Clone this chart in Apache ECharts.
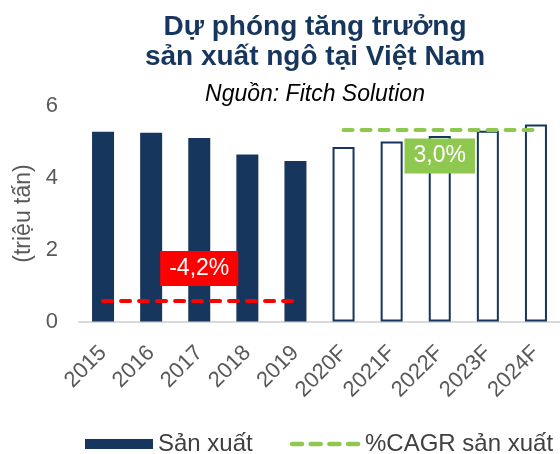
<!DOCTYPE html>
<html><head><meta charset="utf-8">
<script src="https://cdn.jsdelivr.net/npm/echarts@6/dist/echarts.min.js"></script>
<style>html,body{margin:0;padding:0;background:#fff}#c{width:560px;height:454px}</style>
</head><body><div id="c"></div>
<script>
const categories = ['2015','2016','2017','2018','2019','2020F','2021F','2022F','2023F','2024F'];
const production = [5.27, 5.24, 5.10, 4.64, 4.46, 4.85, 5.00, 5.15, 5.30, 5.47];
const isForecast = [false,false,false,false,false,true,true,true,true,true];
const cagrPast = [0.57, 0.57, 0.57, 0.57, 0.57, null, null, null, null, null];
const cagrFuture = [null, null, null, null, null, 5.32, 5.32, 5.32, 5.32, 5.32];
const cagrPastLabel = '-4,2%';
const cagrFutureLabel = '3,0%';
const pastLabelIndex = 2;
const futureLabelIndex = 7;
const yTicks = {min: 0, max: 6, interval: 2};

const NAVY = '#17365d';
const RED = '#ff0000';
const GREEN = '#8fc84f';
const FONT = '"Liberation Sans", Arial, sans-serif';

const barData = production.map((v, i) => isForecast[i]
  ? {value: v, itemStyle: {color: '#ffffff', borderColor: NAVY, borderWidth: 2}}
  : {value: v});

function boxLabel(bg, dy) {
  return {show: true, position: 'inside', offset: [0, dy], formatter: '{c}',
    backgroundColor: bg, color: '#fff', fontSize: 23, fontFamily: FONT,
    padding: [6, 9, 5, 9], lineHeight: 24};
}

const chart = echarts.init(document.getElementById('c'), null, {renderer: 'canvas'});
chart.setOption({
  animation: false,
  textStyle: {fontFamily: FONT},
  title: {
    text: 'Dự phóng tăng trưởng\nsản xuất ngô tại Việt Nam',
    subtext: 'Nguồn: Fitch Solution',
    left: 315, top: 12, textAlign: 'center', itemGap: 10, padding: 0,
    textStyle: {fontSize: 28, fontWeight: 'bold', color: NAVY, lineHeight: 30, fontFamily: FONT},
    subtextStyle: {fontSize: 23, fontStyle: 'italic', color: '#000', lineHeight: 26, fontFamily: FONT}
  },
  legend: {
    top: 432, left: 85, itemGap: 37, padding: 0,
    itemWidth: 68, itemHeight: 10,
    textStyle: {fontSize: 24, color: '#404040', fontFamily: FONT},
    data: [
      {name: 'Sản xuất', icon: 'rect'},
      {name: '%CAGR sản xuất', itemStyle: {opacity: 0},
       lineStyle: {width: 4.5, color: GREEN, type: [10, 8.7], cap: 'round'}}
    ]
  },
  grid: {left: 79, right: 0, top: 105.5, bottom: 132.5, containLabel: false},
  xAxis: {
    type: 'category', data: categories,
    axisLine: {lineStyle: {color: '#d9d9d9', width: 2}},
    axisTick: {show: false},
    axisLabel: {rotate: 45, fontSize: 22, color: '#595959', margin: 28, interval: 0}
  },
  yAxis: {
    type: 'value', min: yTicks.min, max: yTicks.max, interval: yTicks.interval,
    name: '(triệu tấn)', nameLocation: 'middle', nameGap: 36, nameRotate: 90,
    nameTextStyle: {fontSize: 23, color: '#595959'},
    axisLine: {show: false}, axisTick: {show: false}, splitLine: {show: false},
    axisLabel: {fontSize: 22, color: '#595959', margin: 21}
  },
  series: [
    {name: 'Sản xuất', type: 'bar', data: barData, barWidth: 22,
     itemStyle: {color: NAVY}},
    {name: 'CAGR past', type: 'line', data: cagrPast, symbol: 'none',
     lineStyle: {color: RED, width: 4, type: [9, 9], cap: 'round'}, itemStyle: {color: RED}, z: 5,
     markPoint: {symbol: 'circle', symbolSize: 0, silent: true,
       label: boxLabel(RED, -32.5),
       data: [{coord: [categories[pastLabelIndex], cagrPast[pastLabelIndex]], value: cagrPastLabel}]}},
    {name: '%CAGR sản xuất', type: 'line', data: cagrFuture, symbol: 'none',
     lineStyle: {color: GREEN, width: 4, type: [9, 9], cap: 'round'}, itemStyle: {color: GREEN}, z: 5,
     markPoint: {symbol: 'circle', symbolSize: 0, silent: true,
       label: boxLabel(GREEN, 26),
       data: [{coord: [categories[futureLabelIndex], cagrFuture[futureLabelIndex]], value: cagrFutureLabel}]}}
  ]
});
</script></body></html>
